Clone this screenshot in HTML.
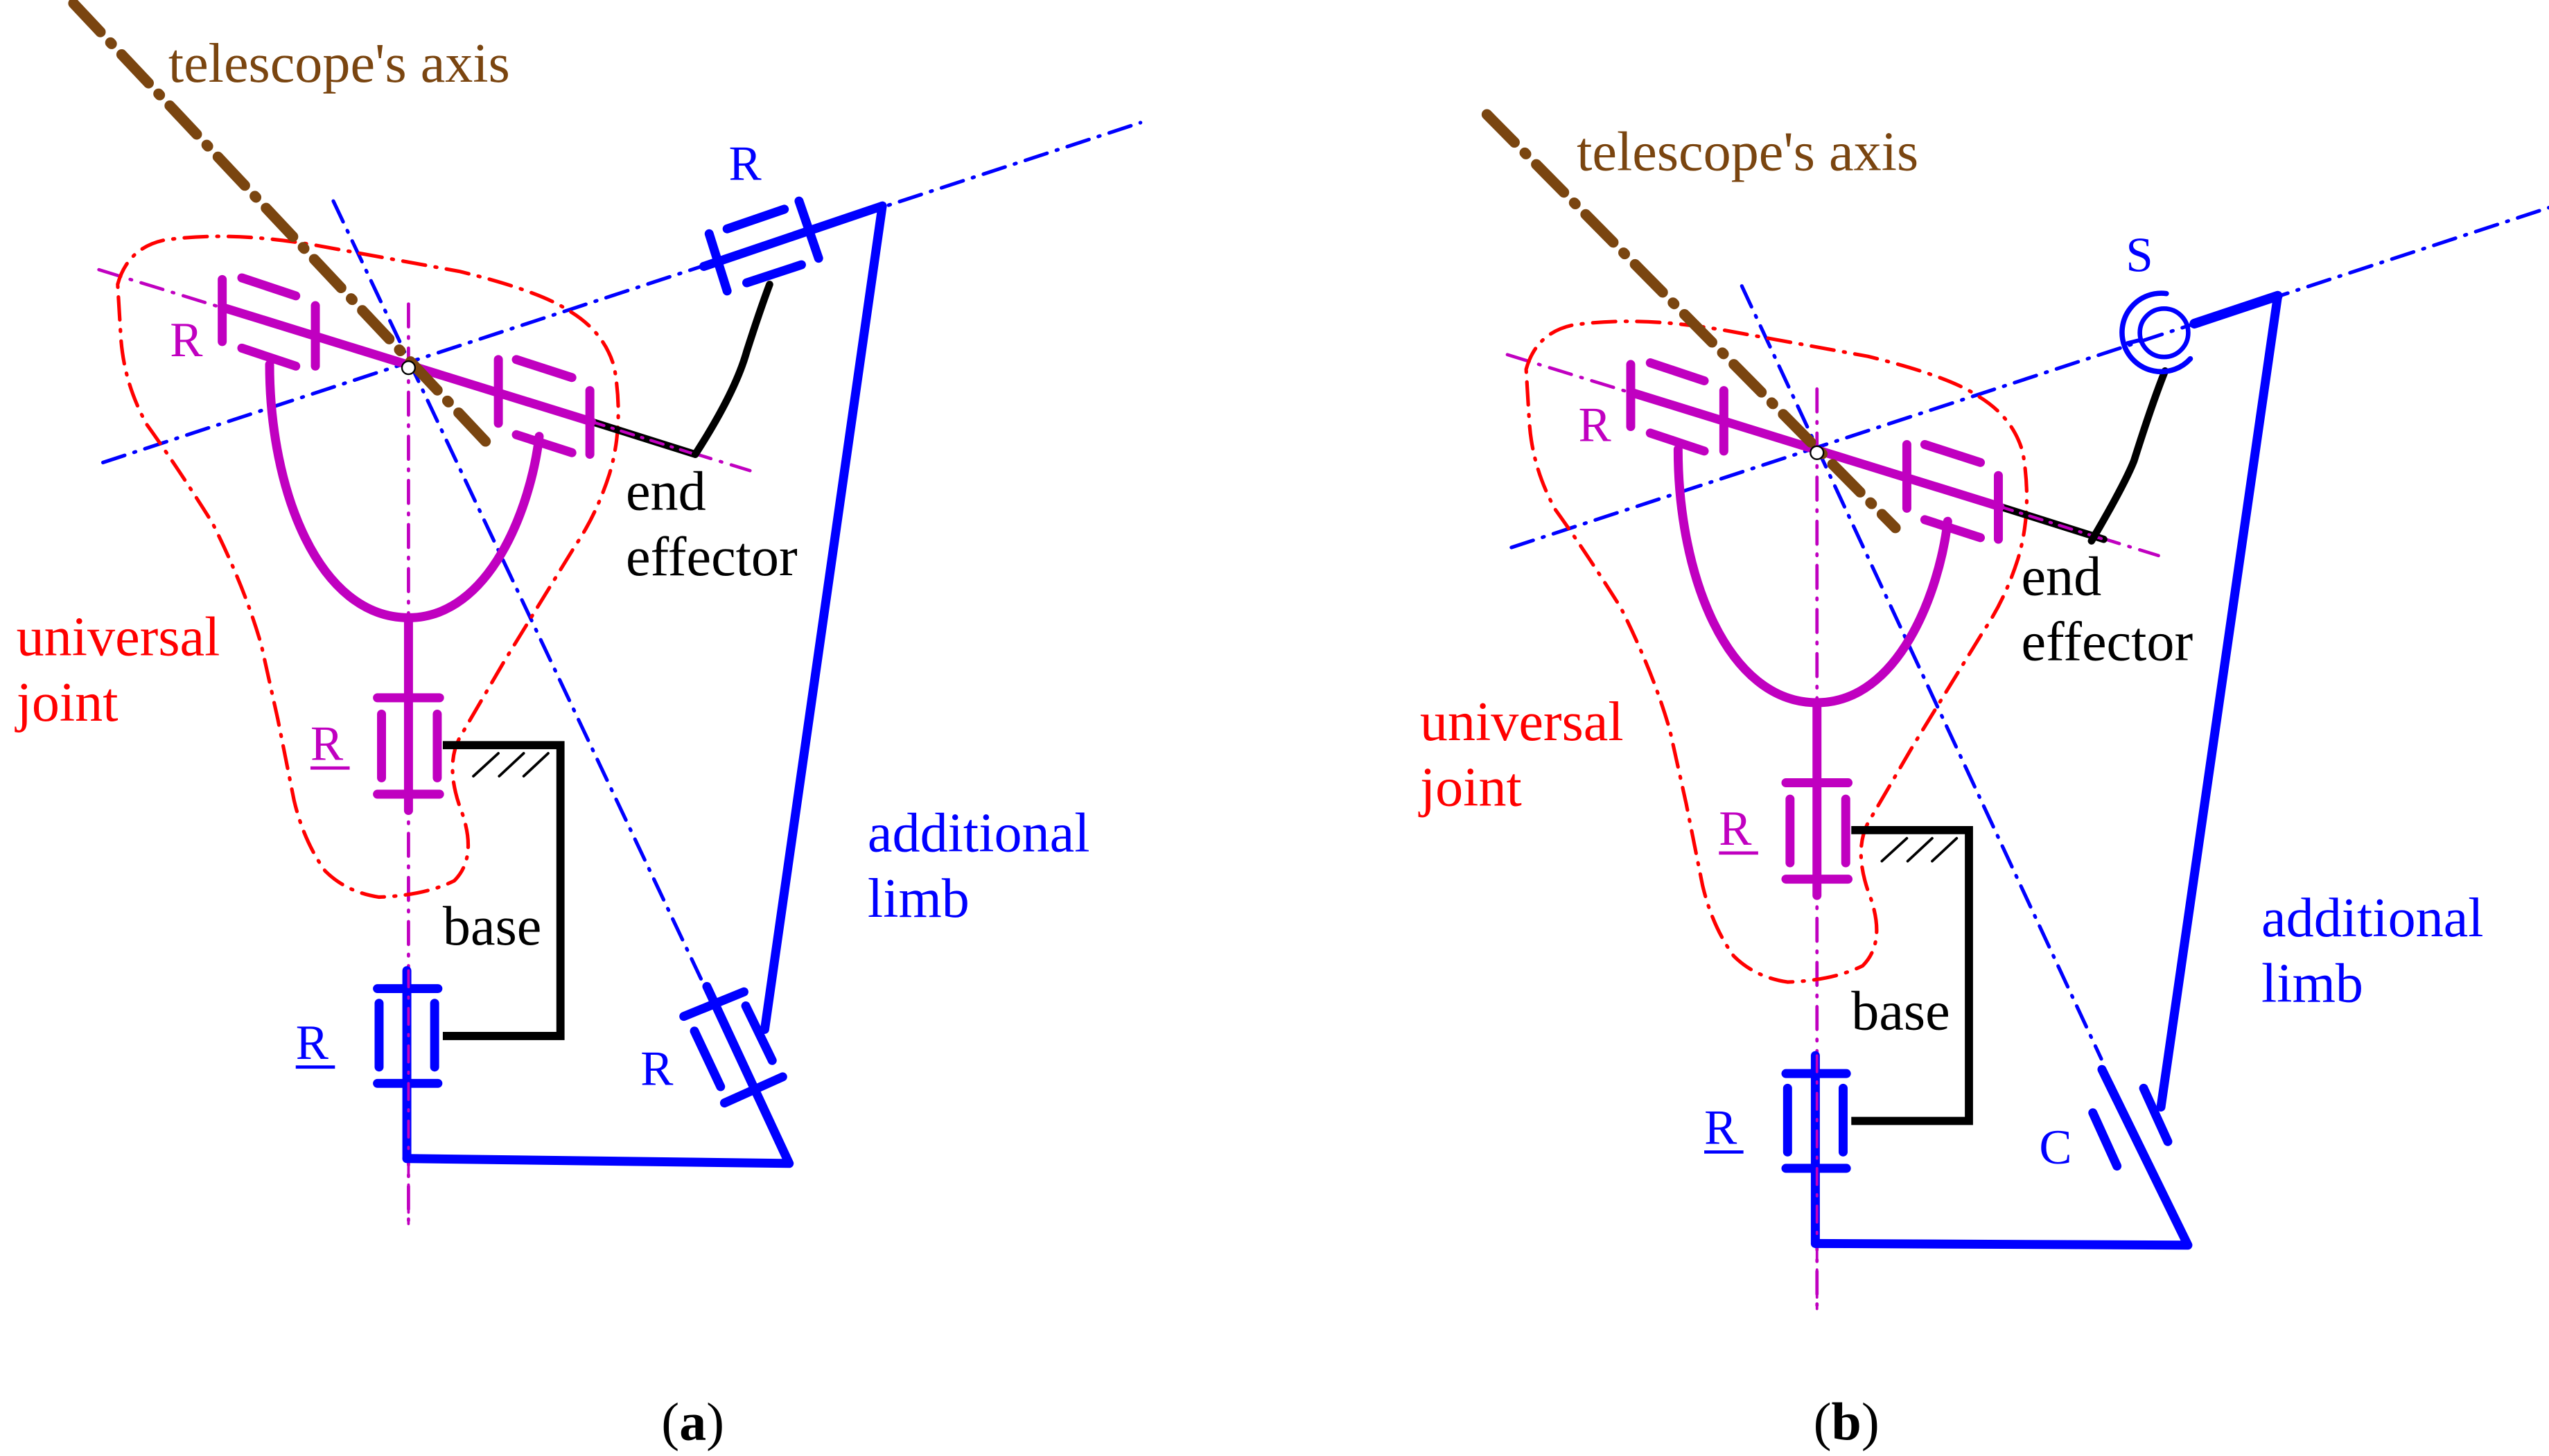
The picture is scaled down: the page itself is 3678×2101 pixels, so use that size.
<!DOCTYPE html>
<html><head><meta charset="utf-8"><style>
html,body{margin:0;padding:0;background:#fff;}
svg{display:block;}
text{font-family:"Liberation Serif","Times New Roman",serif;}
</style></head><body>
<svg width="3678" height="2101" viewBox="0 0 1560 891" xmlns="http://www.w3.org/2000/svg" font-family="Liberation Serif, serif">
<rect width="1560" height="891" fill="#fff"/>

<g>
<g fill="none" stroke-linecap="round" stroke-linejoin="round">
 <line x1="63" y1="283" x2="698" y2="75" stroke="#0000ff" stroke-width="2.2" stroke-dasharray="14 6 1 6"/>
 <line x1="204" y1="123" x2="429" y2="599" stroke="#0000ff" stroke-width="2.2" stroke-dasharray="14 6 1 6"/>
 <line x1="60.5" y1="165" x2="459" y2="288" stroke="#c000c0" stroke-width="2" stroke-dasharray="14 6 1 6"/>
 <line x1="250" y1="186" x2="250" y2="749" stroke="#c000c0" stroke-width="2" stroke-dasharray="14 6 1 6"/>
 <path d="M72,174 Q78,152 100,147 Q140,141 193,150 L281,166 Q330,178 348,190 Q370,203 376,225 Q382,260 373,290 Q365,315 352,334 L309,404 L281,452 Q272,470 283,498 Q292,525 278,539 Q260,548 232,549 Q212,546 199,533 Q186,515 180,490 L170,440 L160,395 Q150,360 130,320 Q108,285 90,260 Q76,235 74,207 Z" stroke="#ff0000" stroke-width="2.2" stroke-dasharray="14 6 1 6"/>
 <line x1="362" y1="258" x2="425.5" y2="278" stroke="#000" stroke-width="4.5"/>
 <line x1="362" y1="258" x2="425.5" y2="278" stroke="#c000c0" stroke-width="1.8" stroke-dasharray="8 5 1 5"/>
 <path d="M425.5,278 Q450,240 457,215 Q465,190 471,174" stroke="#000" stroke-width="4.5"/>
 <polyline points="271,456 343,456 343,634 271,634" stroke="#000" stroke-width="5" stroke-linejoin="miter" stroke-linecap="butt"/>
 <g stroke="#000" stroke-width="1.6"><line x1="289.7" y1="475" x2="305" y2="461"/><line x1="305.5" y1="475" x2="320.5" y2="461"/><line x1="320.5" y1="475" x2="335.5" y2="461"/></g>
 <g stroke="#c000c0" stroke-width="5.5">
  <line x1="136" y1="188" x2="362" y2="258"/>
  <line x1="136" y1="171" x2="136" y2="209"/>
  <line x1="193" y1="187" x2="193" y2="224"/>
  <line x1="148" y1="170" x2="181" y2="181"/>
  <line x1="148" y1="213" x2="181" y2="224"/>
  <line x1="305" y1="220" x2="305" y2="259"/>
  <line x1="361" y1="239" x2="361" y2="278"/>
  <line x1="316" y1="220" x2="350" y2="231"/>
  <line x1="316" y1="266" x2="350" y2="277"/>
  <path d="M165,223 C165,300 195,378 250,378 C300,378 325,310 330,267"/>
  <line x1="250" y1="378" x2="250" y2="496"/>
  <line x1="231" y1="427" x2="269" y2="427"/>
  <line x1="231" y1="486" x2="269" y2="486"/>
  <line x1="233.5" y1="437" x2="233.5" y2="476"/>
  <line x1="267.6" y1="437" x2="267.6" y2="476"/>
 </g>
 <line x1="45" y1="2" x2="298" y2="271" stroke="#7a4510" stroke-width="6.5" stroke-dasharray="24 9 1 9"/>
 <circle cx="250" cy="225" r="4" fill="#fff" stroke="#000" stroke-width="1"/>
 <g stroke="#0000ff" stroke-width="5.5">
  <line x1="249" y1="594" x2="249" y2="709"/>
  <line x1="231" y1="605" x2="268" y2="605"/>
  <line x1="231" y1="663" x2="268" y2="663"/>
  <line x1="232" y1="614" x2="232" y2="653"/>
  <line x1="266" y1="614" x2="266" y2="653"/>
 </g>
 <line x1="250" y1="594" x2="250" y2="749" stroke="#c000c0" stroke-width="1.6" stroke-dasharray="10 6 1 6"/>
</g>
<g font-size="34">
 <text x="103" y="50" fill="#7a4510">telescope's axis</text>
 <text x="104" y="218" fill="#c000c0" font-size="30">R</text>
 <text x="383" y="312" fill="#000">end</text>
 <text x="383" y="352" fill="#000">effector</text>
 <text x="10" y="401" fill="#ff0000">universal</text>
 <text x="10" y="441" fill="#ff0000">joint</text>
 <text x="190" y="465" fill="#c000c0" font-size="30">R</text>
 <line x1="190" y1="470" x2="214" y2="470" stroke="#c000c0" stroke-width="2"/>
 <text x="271" y="578" fill="#000">base</text>
 <text x="181" y="648" fill="#0000ff" font-size="30">R</text>
 <line x1="181" y1="653" x2="205" y2="653" stroke="#0000ff" stroke-width="2"/>
 <text x="531" y="521" fill="#0000ff">additional</text>
 <text x="531" y="561" fill="#0000ff">limb</text>
</g>
</g>

<g fill="none" stroke="#0000ff" stroke-width="5.5" stroke-linecap="round" stroke-linejoin="round">
 <polyline points="249,709 483,712 432.6,603.7"/>
 <line x1="418.5" y1="622" x2="455.3" y2="607"/>
 <line x1="443.4" y1="675" x2="479" y2="659"/>
 <line x1="425" y1="631" x2="441" y2="665"/>
 <line x1="456.4" y1="615.6" x2="472.6" y2="649"/>
 <line x1="468" y1="630" x2="540" y2="126"/>
 <line x1="430.7" y1="163" x2="540" y2="126"/>
 <line x1="434" y1="143" x2="445" y2="178"/>
 <line x1="489" y1="123" x2="501" y2="158"/>
 <line x1="445" y1="140" x2="480" y2="128"/>
 <line x1="457" y1="173" x2="490.5" y2="162"/>
</g>
<g font-size="30" fill="#0000ff">
 <text x="446" y="110">R</text>
 <text x="392" y="664">R</text>
</g>
<text x="424" y="881" font-size="33" text-anchor="middle">(<tspan font-weight="bold">a</tspan>)</text>

<g transform="translate(862,52)">
<g fill="none" stroke-linecap="round" stroke-linejoin="round">
 <line x1="63" y1="283" x2="698" y2="75" stroke="#0000ff" stroke-width="2.2" stroke-dasharray="14 6 1 6"/>
 <line x1="204" y1="123" x2="424" y2="596" stroke="#0000ff" stroke-width="2.2" stroke-dasharray="14 6 1 6"/>
 <line x1="60.5" y1="165" x2="459" y2="288" stroke="#c000c0" stroke-width="2" stroke-dasharray="14 6 1 6"/>
 <line x1="250" y1="186" x2="250" y2="749" stroke="#c000c0" stroke-width="2" stroke-dasharray="14 6 1 6"/>
 <path d="M72,174 Q78,152 100,147 Q140,141 193,150 L281,166 Q330,178 348,190 Q370,203 376,225 Q382,260 373,290 Q365,315 352,334 L309,404 L281,452 Q272,470 283,498 Q292,525 278,539 Q260,548 232,549 Q212,546 199,533 Q186,515 180,490 L170,440 L160,395 Q150,360 130,320 Q108,285 90,260 Q76,235 74,207 Z" stroke="#ff0000" stroke-width="2.2" stroke-dasharray="14 6 1 6"/>
 <line x1="362" y1="258" x2="425.5" y2="278" stroke="#000" stroke-width="4.5"/>
 <line x1="362" y1="258" x2="425.5" y2="278" stroke="#c000c0" stroke-width="1.8" stroke-dasharray="8 5 1 5"/>
 <path d="M418,279 Q438,245 444,230 Q455,195 463,175" stroke="#000" stroke-width="4.5"/>
 <polyline points="271,456 343,456 343,634 271,634" stroke="#000" stroke-width="5" stroke-linejoin="miter" stroke-linecap="butt"/>
 <g stroke="#000" stroke-width="1.6"><line x1="289.7" y1="475" x2="305" y2="461"/><line x1="305.5" y1="475" x2="320.5" y2="461"/><line x1="320.5" y1="475" x2="335.5" y2="461"/></g>
 <g stroke="#c000c0" stroke-width="5.5">
  <line x1="136" y1="188" x2="362" y2="258"/>
  <line x1="136" y1="171" x2="136" y2="209"/>
  <line x1="193" y1="187" x2="193" y2="224"/>
  <line x1="148" y1="170" x2="181" y2="181"/>
  <line x1="148" y1="213" x2="181" y2="224"/>
  <line x1="305" y1="220" x2="305" y2="259"/>
  <line x1="361" y1="239" x2="361" y2="278"/>
  <line x1="316" y1="220" x2="350" y2="231"/>
  <line x1="316" y1="266" x2="350" y2="277"/>
  <path d="M165,223 C165,300 195,378 250,378 C300,378 325,310 330,267"/>
  <line x1="250" y1="378" x2="250" y2="496"/>
  <line x1="231" y1="427" x2="269" y2="427"/>
  <line x1="231" y1="486" x2="269" y2="486"/>
  <line x1="233.5" y1="437" x2="233.5" y2="476"/>
  <line x1="267.6" y1="437" x2="267.6" y2="476"/>
 </g>
 <line x1="48" y1="18" x2="298" y2="271" stroke="#7a4510" stroke-width="6.5" stroke-dasharray="24 9 1 9"/>
 <circle cx="250" cy="225" r="4" fill="#fff" stroke="#000" stroke-width="1"/>
 <g stroke="#0000ff" stroke-width="5.5">
  <line x1="249" y1="594" x2="249" y2="709"/>
  <line x1="231" y1="605" x2="268" y2="605"/>
  <line x1="231" y1="663" x2="268" y2="663"/>
  <line x1="232" y1="614" x2="232" y2="653"/>
  <line x1="266" y1="614" x2="266" y2="653"/>
 </g>
 <line x1="250" y1="594" x2="250" y2="749" stroke="#c000c0" stroke-width="1.6" stroke-dasharray="10 6 1 6"/>
</g>
<g font-size="34">
 <text x="103" y="52" fill="#7a4510">telescope's axis</text>
 <text x="104" y="218" fill="#c000c0" font-size="30">R</text>
 <text x="375" y="312" fill="#000">end</text>
 <text x="375" y="352" fill="#000">effector</text>
 <text x="7" y="401" fill="#ff0000">universal</text>
 <text x="7" y="441" fill="#ff0000">joint</text>
 <text x="190" y="465" fill="#c000c0" font-size="30">R</text>
 <line x1="190" y1="470" x2="214" y2="470" stroke="#c000c0" stroke-width="2"/>
 <text x="271" y="578" fill="#000">base</text>
 <text x="181" y="648" fill="#0000ff" font-size="30">R</text>
 <line x1="181" y1="653" x2="205" y2="653" stroke="#0000ff" stroke-width="2"/>
 <text x="522" y="521" fill="#0000ff">additional</text>
 <text x="522" y="561" fill="#0000ff">limb</text>
</g>
</g>

<g fill="none" stroke="#0000ff" stroke-linecap="round" stroke-linejoin="round">
 <polyline points="1111,761 1339,762 1286.4,654.5" stroke-width="5.5"/>
 <line x1="1280.8" y1="681" x2="1295.6" y2="713.6" stroke-width="5.5"/>
 <line x1="1311.9" y1="666" x2="1326.7" y2="698.6" stroke-width="5.5"/>
 <line x1="1322.5" y1="677.5" x2="1394" y2="181" stroke-width="5.5"/>
 <line x1="1343" y1="198" x2="1394" y2="181" stroke-width="6"/>
 <circle cx="1324.4" cy="203.6" r="14.8" stroke-width="2.8"/>
 <path d="M1325.8,179.6 A24,24 0 1 0 1340.5,219.5" stroke-width="3.2"/>
 <line x1="1302" y1="210" x2="1310" y2="208" stroke-width="2.5"/>
</g>
<g font-size="30" fill="#0000ff">
 <text x="1301" y="166">S</text>
 <text x="1248" y="712">C</text>
</g>
<text x="1130" y="881" font-size="33" text-anchor="middle">(<tspan font-weight="bold">b</tspan>)</text>
</svg>
</body></html>
